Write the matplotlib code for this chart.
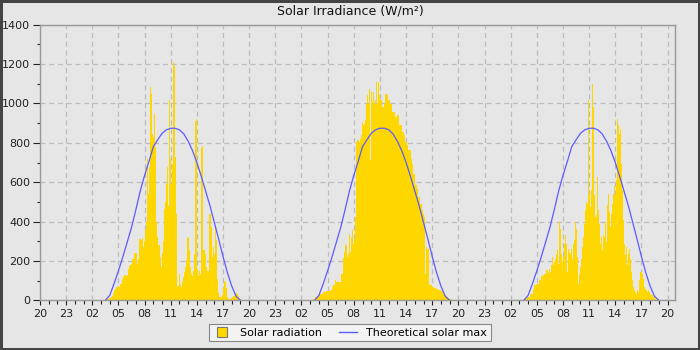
import matplotlib
matplotlib.use("Agg")
import matplotlib.pyplot as plt
import numpy as np
from matplotlib.lines import Line2D
from matplotlib.patches import Rectangle

# ---------------- data ----------------
title = "Solar Irradiance (W/m²)"
x_tick_labels = ["20", "23", "02", "05", "08", "11", "14", "17"] * 3 + ["20"]
y_ticks = [0, 200, 400, 600, 800, 1000, 1200, 1400]

sample_minutes = 6.9                 # spacing of the radiation samples
day_midnight_h = [4, 28, 52]         # hours from first 20:00 tick to each midnight
day_start_clock = [3.60, 3.34, 3.47] # clock hour of the first sample each day

radiation_day1 = [5, 8, 8, 10, 12, 18, 20, 35, 50, 55, 70, 70, 72, 70, 85, 85, 110, 120, 130, 130,
                  125, 128, 160, 175, 180, 185, 210, 210, 240, 240, 240, 186, 210, 310, 310, 305,
                  315, 270, 300, 358, 397, 718, 540, 676, 1082, 1048, 845, 830, 946, 777, 397, 320,
                  280, 280, 220, 170, 240, 300, 465, 500, 590, 675, 480, 1015, 720, 590, 690, 1210,
                  1190, 730, 440, 75, 75, 135, 85, 70, 95, 120, 145, 170, 205, 315, 320, 255, 170,
                  135, 125, 150, 235, 910, 920, 160, 125, 150, 135, 775, 785, 255, 235, 170, 135,
                  150, 135, 440, 370, 220, 270, 235, 370, 305, 110, 35, 15, 15, 15, 25, 65, 100, 95,
                  60, 15, 8, 8, 8, 10, 15, 20, 20, 25, 35, 30, 20, 10, 5, 3]

radiation_day2 = [8, 8, 17, 17, 17, 25, 25, 34, 34, 34, 42, 42, 42, 47, 47, 47, 47, 51, 51, 68,
                  76, 76, 105, 93, 93, 93, 93, 93, 135, 135, 217, 245, 288, 274, 220, 237, 339,
                  245, 322, 359, 288, 313, 423, 804, 813, 813, 804, 821, 838, 906, 889, 897, 914,
                  999, 1041, 999, 1075, 711, 1058, 1007, 1058, 999, 1016, 1109, 999,
                  1109, 1041, 1016, 1016, 982, 982, 999, 1050, 1050, 1041, 1016, 1016, 999, 999,
                  956, 956, 956, 931, 931, 940, 940, 889, 889, 889, 855, 855, 838, 804, 804, 787,
                  762, 762, 762, 720, 694, 643, 643, 584, 584, 567, 525, 525, 491, 491, 457, 440,
                  423, 135, 271, 262, 262, 85, 80, 76, 68, 66, 64, 60, 59, 55, 54, 51, 45, 42, 34,
                  30, 25, 20, 17, 10, 8, 8, 5]

radiation_day3 = [8, 8, 8, 17, 17, 17, 34, 34, 34, 59, 76, 76, 85, 85, 81, 105, 105, 122, 122, 130,
                  135, 135, 152, 152, 139, 160, 144, 178, 220, 178, 195, 211, 228, 254, 186, 397,
                  364, 237, 195, 220, 287, 330, 287, 144, 262, 245, 237, 262, 211, 287, 304, 397,
                  364, 220, 85, 135, 169, 211, 270, 321, 389, 457, 499, 490, 1015, 541, 473, 558,
                  1099, 981, 533, 423, 431, 626, 457, 389, 287, 321, 254, 330, 321, 397, 296, 482,
                  541, 448, 372, 440, 490, 541, 583, 533, 609, 922, 888, 845, 871, 693, 558, 406,
                  287, 228, 270, 178, 237, 262, 211, 144, 101, 68, 51, 42, 34, 51, 42, 101, 144,
                  144, 135, 110, 68, 59, 51, 42, 51, 42, 34, 25, 25, 17, 15, 8, 8, 5, 3]

theory_clock = np.arange(3.5, 19.01, 0.5)
theory_values = [0, 25, 85, 150, 220, 295, 370, 460, 555, 635, 705, 780, 815, 848, 866, 874,
                 874, 866, 845, 808, 760, 700, 630, 555, 480, 396, 310, 222, 140, 72, 20, 0]

# ---------------- style ----------------
bg = "#e6e6e6"
bar_color = "#ffd700"
line_color = "#5b5bff"

fig = plt.figure(figsize=(7, 3.5), dpi=100)
fig.patch.set_facecolor(bg)
ax = fig.add_axes([40 / 700, 1 - 300.3 / 350, 635 / 700, 275.6 / 350])
ax.set_facecolor(bg)

dt_h = sample_minutes / 60.0
days = [radiation_day1, radiation_day2, radiation_day3]
for k, vals in enumerate(days):
    t = day_midnight_h[k] + day_start_clock[k] + np.arange(len(vals)) * dt_h
    ax.bar(t, vals, width=dt_h * 1.02, align="edge", color=bar_color, linewidth=0,
           zorder=2, label="Solar radiation" if k == 0 else None)
for k in range(3):
    ax.plot(day_midnight_h[k] + theory_clock, theory_values, color=line_color, lw=0.9,
            zorder=3)

ax.set_xlim(0, 72.85)
ax.set_ylim(0, 1400)
ax.set_xticks(np.arange(0, 73, 3))
ax.set_xticklabels(x_tick_labels)
ax.set_xticks(np.arange(0, 73, 1), minor=True)
ax.set_yticks(y_ticks)
ax.set_yticks(np.arange(0, 1401, 100), minor=True)

ax.grid(True, which="major", color="#bcbcbc", linestyle=(0, (4, 3)), linewidth=0.9, zorder=1)
ax.set_axisbelow(True)
for s in ax.spines.values():
    s.set_color("#999999")
    s.set_linewidth(1.0)
    s.set_zorder(4)

ax.tick_params(axis="both", which="major", labelsize=8, colors="#222222", direction="out")
ax.tick_params(axis="x", which="major", length=3.5, width=0.8, pad=3)
ax.tick_params(axis="x", which="minor", length=3, width=0.8, color="#222222")
ax.tick_params(axis="y", which="major", length=5, width=0.8, pad=2)
ax.tick_params(axis="y", which="minor", length=2.5, width=0.8, color="#222222")

fig.text(0.5, 1 - 11.5 / 350, title, ha="center", va="center", fontsize=9, color="#111111")

handles = [Line2D([], [], marker="s", linestyle="none", markersize=7,
                  markerfacecolor=bar_color, markeredgecolor="#777777", markeredgewidth=0.8),
           Line2D([], [], color=line_color, lw=1)]
leg = fig.legend(handles, ["Solar radiation", "Theoretical solar max"], loc="lower center",
                 bbox_to_anchor=(0.5, 3.0 / 350), ncol=2, fontsize=8, frameon=True,
                 fancybox=False, framealpha=1, facecolor="#f3f3f3", edgecolor="#888888",
                 borderpad=0.35, handlelength=1.6, handletextpad=0.8, columnspacing=1.6)
leg.get_frame().set_linewidth(0.8)

fig.add_artist(Rectangle((0, 0), 1, 1, transform=fig.transFigure, fill=False,
                         edgecolor="#444444", linewidth=3.6, zorder=10))

fig.savefig("out.png", dpi=100, facecolor=fig.get_facecolor())
